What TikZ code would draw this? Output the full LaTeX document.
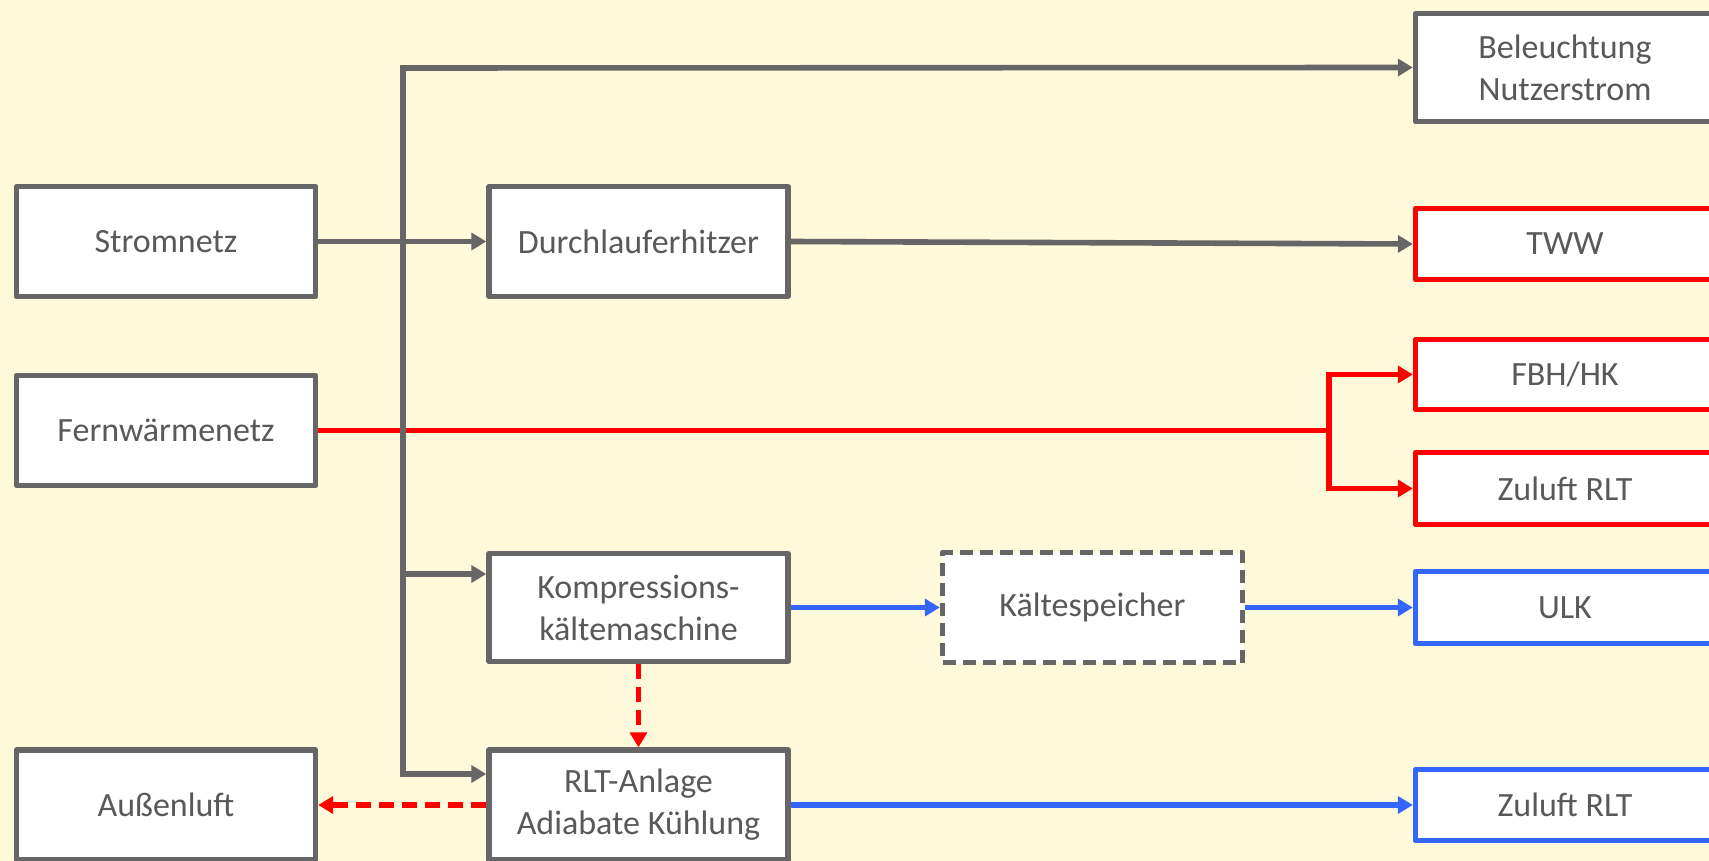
\documentclass[tikz,border=0pt]{standalone}
\usepackage{fontspec}
\setmainfont{Carlito}
\usetikzlibrary{arrows.meta}
\definecolor{bgc}{HTML}{FFF9DB}
\definecolor{boxgray}{HTML}{666666}
\definecolor{txtgray}{HTML}{595959}
\definecolor{myred}{HTML}{FF0000}
\definecolor{myblue}{HTML}{3366FF}
\tikzset{
  box/.style={draw=boxgray, line width=2.7pt, fill=white, line join=round,
    minimum width=149.5pt, minimum height=55pt, inner sep=0pt,
    text=txtgray, align=center, font=\fontsize{17}{21}\selectfont},
  redbox/.style={box, draw=myred},
  bluebox/.style={box, draw=myblue},
  dashbox/.style={box, dash pattern=on 6.5pt off 3.5pt, minimum width=150pt},
  conn/.style={line width=2.8pt, -{Triangle[length=7.5pt,width=8.5pt]}},
  garrow/.style={conn, draw=boxgray},
  rarrow/.style={conn, draw=myred},
  barrow/.style={conn, draw=myblue},
  rdash/.style={rarrow, dash pattern=on 7.5pt off 4pt}
}
\begin{document}
\begin{tikzpicture}[x=0.5pt,y=-0.5pt]
\useasboundingbox (0,0) rectangle (1709,861);
\clip (0,0) rectangle (1709,861);
\fill[bgc] (0,0) rectangle (1709,861);

% left column
\node[box] (strom) at (166,241.5) {Stromnetz};
\node[box] (fern) at (166,430.5) {Fernwärmenetz};
\node[box] (aussen) at (166,805) {Außenluft};
% middle column
\node[box] (durch) at (638.5,241.5) {Durchlauferhitzer};
\node[box, minimum height=54pt] (kompr) at (638.5,607.5) {Kompressions-\\kältemaschine};
\node[box] (rlt) at (638.5,805) {RLT-Anlage\\Adiabate Kühlung};
\node[dashbox] (kaelte) at (1092.5,607.5) {Kältespeicher};
% right column
\node[box, minimum height=54pt] (bel) at (1565,67.5) {Beleuchtung\\Nutzerstrom};
\node[redbox, minimum height=35.5pt] (tww) at (1565,244) {TWW};
\node[redbox, minimum height=35pt] (fbh) at (1565,374.5) {FBH/HK};
\node[redbox, minimum height=36pt] (zul1) at (1565,488.5) {Zuluft RLT};
\node[bluebox, minimum height=36pt] (ulk) at (1565,607.5) {ULK};
\node[bluebox, minimum height=35.5pt] (zul2) at (1565,805) {Zuluft RLT};

% coordinates
\coordinate (bt) at (403,68);
\coordinate (bb) at (403,774);
\coordinate (bk) at (403,574);
\coordinate (split) at (1329,430.5);

% red heat lines
\draw[line width=2.8pt, draw=myred] (fern.east) -- (split);
\draw[rarrow] (split) |- (fbh.west);
\draw[rarrow] (split) |- (zul1.west);

% gray electricity bus
\draw[garrow] (bb) -- (bt) -- (bel.west);
\draw[garrow] (bt) -- (bb) -- (bb -| rlt.west);
\draw[garrow] (bk) -- (bk -| kompr.west);
\draw[garrow] (strom.east) -- (durch.west);
\draw[garrow] (durch.east) -- (tww.west);

% blue cooling lines
\draw[barrow] (kompr.east) -- (kaelte.west);
\draw[barrow] (kaelte.east) -- (ulk.west);
\draw[barrow] (rlt.east) -- (zul2.west);

% dashed red
\draw[rdash] (kompr.south) -- (rlt.north);
\draw[rdash] (rlt.west) -- (aussen.east);
\end{tikzpicture}
\end{document}
